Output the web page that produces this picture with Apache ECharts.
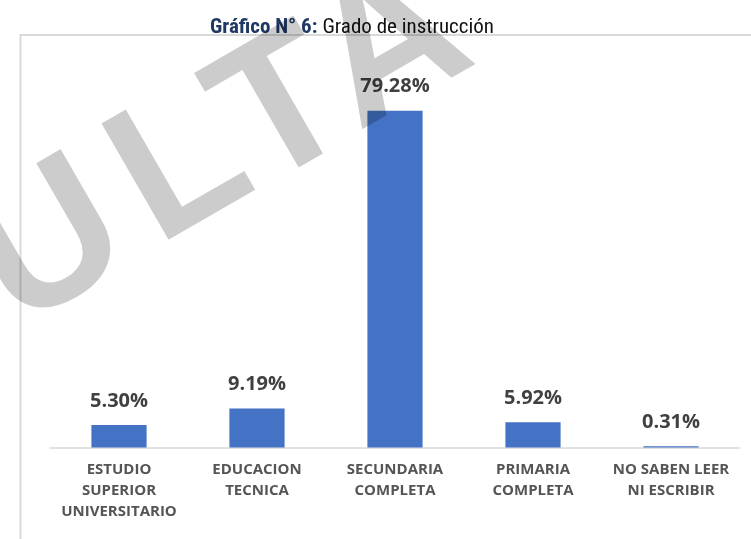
<!DOCTYPE html>
<html>
<head>
<meta charset="utf-8">
<script src="https://cdn.jsdelivr.net/npm/echarts@6/dist/echarts.min.js"></script>
<style>
html,body{margin:0;padding:0;background:#fff;}
#chart{width:751px;height:539px;}
</style>
</head>
<body>
<div id="chart"></div>
<script>
// ---- data ----
const categories = [
  'ESTUDIO\nSUPERIOR\nUNIVERSITARIO',
  'EDUCACION\nTECNICA',
  'SECUNDARIA\nCOMPLETA',
  'PRIMARIA\nCOMPLETA',
  'NO SABEN LEER\nNI ESCRIBIR'
];
const percentages = [5.30, 9.19, 79.28, 5.92, 0.31];
const chartTitleBold = 'Gráfico N° 6:';
const chartTitleRest = 'Grado de instrucción';
const watermarkLetters = ['S', 'U', 'L', 'T', 'A'];

// ---- chart ----
const chart = echarts.init(document.getElementById('chart'), null, {renderer: 'canvas'});
const wmPos = [[-75, 318], [50, 248], [182, 170], [284, 114], [392, 50]];
const wm = watermarkLetters.map((ch, i) => ({
  type: 'text',
  x: wmPos[i][0],
  y: wmPos[i][1],
  rotation: Math.PI / 6,
  z: 100,
  silent: true,
  style: {
    text: ch,
    fill: 'rgba(0,0,0,0.2)',
    font: 'bold 195px "Liberation Sans", Arial, sans-serif',
    align: 'center',
    verticalAlign: 'middle'
  }
}));

chart.setOption({
  animation: false,
  backgroundColor: '#ffffff',
  title: {
    text: '{a|' + chartTitleBold + '} {b|' + chartTitleRest + '}',
    left: 205,
    top: 12,
    textStyle: {
      rich: {
        a: {fontFamily: '"Liberation Sans Narrow", "Roboto Condensed", "Arial Narrow", sans-serif', fontWeight: 'bold', fontSize: 21, color: '#1F3864'},
        b: {fontFamily: '"Liberation Sans Narrow", "Roboto Condensed", "Arial Narrow", sans-serif', fontWeight: 'normal', fontSize: 21, color: '#111111'}
      }
    }
  },
  graphic: [
    {
      type: 'rect',
      z: -1,
      silent: true,
      shape: {x: 20.5, y: 35, width: 760, height: 540},
      style: {fill: 'none', stroke: '#d9d9d9', lineWidth: 2}
    }
  ].concat(wm),
  grid: {left: 50, right: 11, top: 107.7, bottom: 91.5, containLabel: false},
  xAxis: {
    type: 'category',
    data: categories,
    axisLine: {lineStyle: {color: '#d9d9d9', width: 1.5}},
    axisTick: {show: false},
    axisLabel: {
      interval: 0,
      margin: 12,
      fontFamily: '"Open Sans", sans-serif',
      fontWeight: 'bold',
      fontSize: 15,
      lineHeight: 21,
      color: '#555555'
    }
  },
  yAxis: {
    type: 'value',
    min: 0,
    max: 80,
    show: false,
    splitLine: {show: false}
  },
  series: [{
    type: 'bar',
    data: percentages,
    barWidth: '40%',
    itemStyle: {color: '#4472C4'},
    label: {
      show: true,
      position: 'top',
      distance: 14,
      formatter: p => p.value.toFixed(2) + '%',
      fontFamily: '"Open Sans", sans-serif',
      fontWeight: 'bold',
      fontSize: 20,
      color: '#404040'
    }
  }]
});
</script>
</body>
</html>
